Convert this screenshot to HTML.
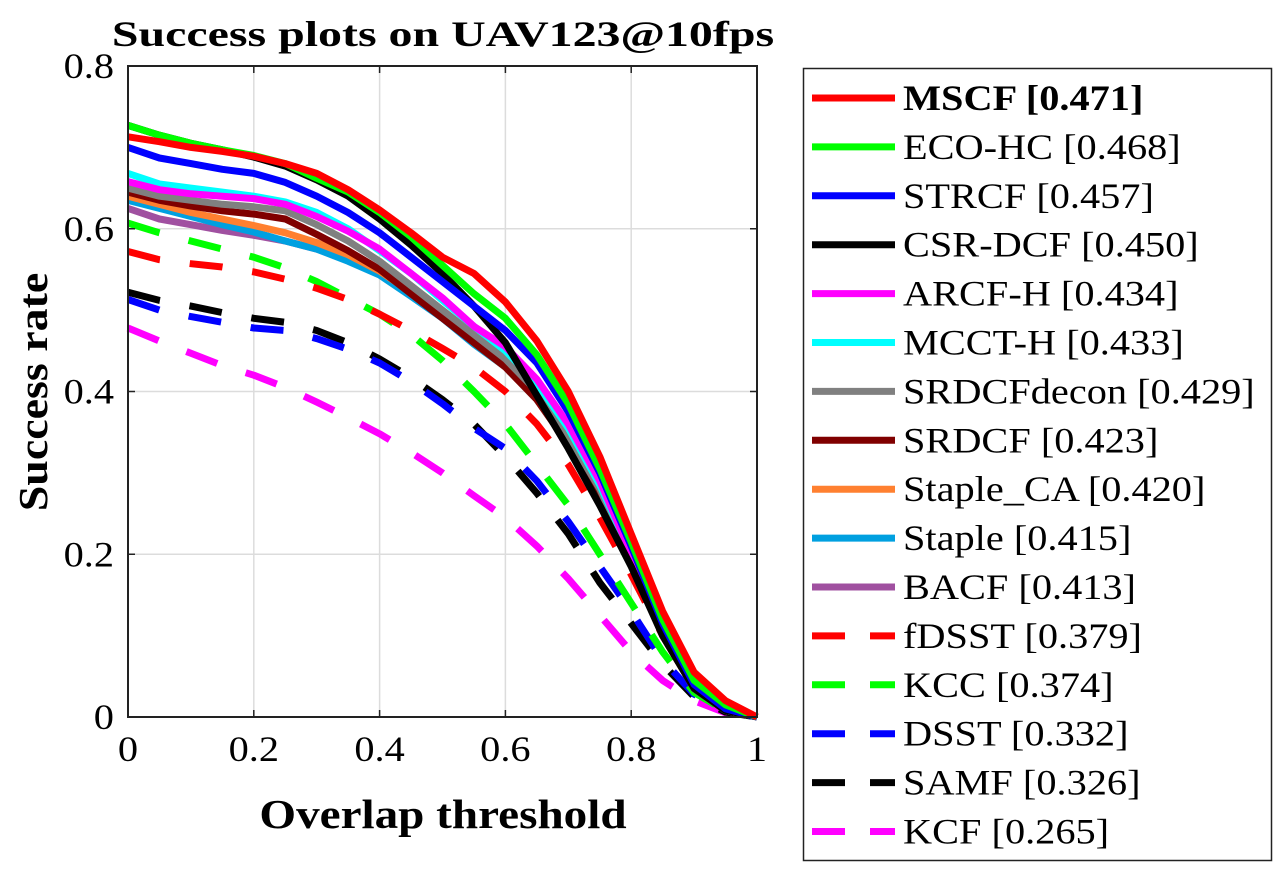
<!DOCTYPE html>
<html><head><meta charset="utf-8">
<style>
html,body{margin:0;padding:0;background:#fff;}
svg{display:block;font-family:"Liberation Serif",serif;}
</style></head>
<body>
<svg id="chart" width="1287" height="870" viewBox="0 0 1287 870" xmlns="http://www.w3.org/2000/svg">
<rect width="1287" height="870" fill="#fff"/>
<text data-stretch="1.33" x="443" y="46" text-anchor="middle" font-size="36" font-weight="bold">Success plots on UAV123@10fps</text>
<g id="grid"></g>
<g id="series"></g>
<g id="axes"></g>
<text data-stretch="1.15" x="443" y="828" text-anchor="middle" font-size="41" font-weight="bold">Overlap threshold</text>
<text data-stretch="1.12" transform="translate(47,392) rotate(-90)" text-anchor="middle" font-size="41" font-weight="bold">Success rate</text>
<rect x="803.5" y="68.5" width="468" height="792" fill="#fff" stroke="#222" stroke-width="1.5"/>
<g id="legend"></g>
</svg>
<script>
const thresholds=[0,0.05,0.1,0.15,0.2,0.25,0.3,0.35,0.4,0.45,0.5,0.55,0.6,0.65,0.7,0.75,0.8,0.85,0.9,0.95,1];
const xTicks=[0,0.2,0.4,0.6,0.8,1];
const yTicks=[0,0.2,0.4,0.6,0.8];
const names=["MSCF","ECO-HC","STRCF","CSR-DCF","ARCF-H","MCCT-H","SRDCFdecon","SRDCF","Staple_CA","Staple","BACF","fDSST","KCC","DSST","SAMF","KCF"];
const scores=["0.471","0.468","0.457","0.450","0.434","0.433","0.429","0.423","0.420","0.415","0.413","0.379","0.374","0.332","0.326","0.265"];
const colors=["#ff0000","#00ff00","#0000ff","#000000","#ff00ff","#00ffff","#808080","#800000","#ff8030","#00a0e0","#a050a0","#ff0000","#00ff00","#0000ff","#000000","#ff00ff"];
const dashed=[false,false,false,false,false,false,false,false,false,false,false,true,true,true,true,true];
const sMSCF=[0.713,0.707,0.700,0.695,0.689,0.680,0.668,0.648,0.623,0.595,0.565,0.545,0.51,0.462,0.40,0.32,0.225,0.13,0.055,0.02,0];
const sECO=[0.727,0.715,0.705,0.697,0.690,0.680,0.662,0.645,0.620,0.590,0.555,0.52,0.49,0.445,0.385,0.305,0.215,0.12,0.045,0.015,0];
const sSTRCF=[0.70,0.687,0.680,0.673,0.668,0.657,0.640,0.62,0.595,0.565,0.535,0.505,0.475,0.435,0.375,0.30,0.21,0.115,0.04,0.01,0];
const sCSR=[0.727,0.715,0.705,0.697,0.688,0.677,0.66,0.64,0.612,0.58,0.545,0.505,0.46,0.395,0.33,0.26,0.185,0.10,0.035,0.008,0];
const sARCF=[0.658,0.648,0.643,0.640,0.637,0.630,0.615,0.597,0.575,0.545,0.515,0.48,0.455,0.415,0.36,0.29,0.20,0.11,0.035,0.01,0];
const sMCCT=[0.668,0.655,0.650,0.645,0.64,0.633,0.62,0.600,0.573,0.545,0.512,0.48,0.45,0.41,0.355,0.285,0.2,0.11,0.04,0.01,0];
const sSRDCFdecon=[0.65,0.64,0.635,0.63,0.627,0.622,0.605,0.585,0.56,0.53,0.50,0.47,0.44,0.40,0.345,0.28,0.195,0.105,0.035,0.008,0];
const sSRDCF=[0.645,0.635,0.628,0.622,0.618,0.612,0.593,0.573,0.55,0.52,0.49,0.46,0.43,0.39,0.335,0.27,0.19,0.10,0.035,0.008,0];
const sStapleCA=[0.64,0.63,0.62,0.612,0.604,0.595,0.583,0.568,0.548,0.522,0.492,0.46,0.43,0.39,0.335,0.27,0.19,0.10,0.035,0.008,0];
const sStaple=[0.635,0.625,0.615,0.605,0.596,0.585,0.575,0.56,0.543,0.517,0.49,0.458,0.43,0.39,0.335,0.27,0.19,0.10,0.035,0.008,0];
const sBACF=[0.625,0.612,0.605,0.598,0.592,0.585,0.575,0.562,0.545,0.52,0.49,0.46,0.43,0.39,0.335,0.27,0.19,0.10,0.035,0.008,0];
const sfDSST=[0.572,0.562,0.557,0.553,0.547,0.538,0.527,0.513,0.495,0.475,0.453,0.43,0.40,0.36,0.31,0.245,0.175,0.10,0.04,0.01,0];
const sKCC=[0.607,0.595,0.585,0.575,0.565,0.552,0.535,0.515,0.495,0.47,0.438,0.40,0.36,0.31,0.26,0.20,0.14,0.08,0.03,0.008,0];
const sDSST=[0.513,0.500,0.492,0.485,0.478,0.475,0.465,0.452,0.435,0.412,0.385,0.355,0.33,0.29,0.24,0.185,0.13,0.07,0.028,0.008,0];
const sSAMF=[0.522,0.512,0.505,0.497,0.49,0.485,0.475,0.46,0.44,0.417,0.39,0.36,0.32,0.275,0.225,0.165,0.115,0.065,0.025,0.006,0];
const sKCF=[0.478,0.462,0.447,0.432,0.42,0.405,0.387,0.368,0.348,0.325,0.30,0.272,0.245,0.21,0.17,0.125,0.08,0.045,0.02,0.005,0];
const seriesData=[sMSCF,sECO,sSTRCF,sCSR,sARCF,sMCCT,sSRDCFdecon,sSRDCF,sStapleCA,sStaple,sBACF,sfDSST,sKCC,sDSST,sSAMF,sKCF];

const NS="http://www.w3.org/2000/svg";
const X0=128,X1=757,Y0=717,Y1=66;
const xs=v=>X0+(X1-X0)*v;
const ys=v=>Y0-(Y0-Y1)*v/0.8;
function mk(tag,attrs,parent){const e=document.createElementNS(NS,tag);for(const k in attrs)e.setAttribute(k,attrs[k]);parent.appendChild(e);return e;}
const grid=document.getElementById('grid'),axes=document.getElementById('axes'),ser=document.getElementById('series'),leg=document.getElementById('legend');
xTicks.forEach(t=>{
 const g=mk('line',{x1:xs(t),x2:xs(t),y1:Y0,y2:Y1,stroke:'#dcdcdc','stroke-width':1.5},grid);
 
 
 mk('line',{x1:xs(t),x2:xs(t),y1:Y0,y2:Y0-7,stroke:'#222','stroke-width':1.5},axes);
 mk('line',{x1:xs(t),x2:xs(t),y1:Y1,y2:Y1+7,stroke:'#222','stroke-width':1.5},axes);
 const tx=mk('text',{x:xs(t),y:Y0+44,'text-anchor':'middle','font-size':36,'data-stretch':'1.12'},axes);
 tx.textContent=String(t);
 
 
});
yTicks.forEach(t=>{
 const g=mk('line',{x1:X0,x2:X1,y1:ys(t),y2:ys(t),stroke:'#dcdcdc','stroke-width':1.5},grid);
 
 
 mk('line',{x1:X0,x2:X0+7,y1:ys(t),y2:ys(t),stroke:'#222','stroke-width':1.5},axes);
 mk('line',{x1:X1,x2:X1-7,y1:ys(t),y2:ys(t),stroke:'#222','stroke-width':1.5},axes);
 const tx=mk('text',{x:X0-14,y:ys(t)+12,'text-anchor':'end','font-size':36,'data-stretch':'1.12'},axes);
 tx.textContent=String(t);
 
 
});
const frame=mk('rect',{x:X0,y:Y1,width:X1-X0,height:Y0-Y1,fill:'none',stroke:'#222','stroke-width':2},axes);


for(let i=seriesData.length-1;i>=0;i--){
 const d=seriesData[i].map((v,j)=>(j?'L':'M')+xs(thresholds[j]).toFixed(1)+','+ys(v).toFixed(1)).join('');
 const p=mk('path',{d:d,fill:'none',stroke:colors[i],'stroke-width':7,'stroke-linejoin':'round'},ser);
 if(dashed[i])p.setAttribute('stroke-dasharray','33,30');
 
 
}
names.forEach((n,i)=>{
 const y=98+i*48.9;
 const g=mk('g',{},leg);
 
 
 const l=mk('line',{x1:812,x2:895,y1:y,y2:y,stroke:colors[i],'stroke-width':7},g);
 if(dashed[i])l.setAttribute('stroke-dasharray','33,25');
 const t=mk('text',{x:903,y:y+12,'font-size':36,'data-stretch':'1.12'},g);
 if(i===0)t.setAttribute('font-weight','bold');
 t.textContent=n+' ['+scores[i]+']';
});
document.querySelectorAll('text[data-stretch]').forEach(t=>{
 const f=parseFloat(t.getAttribute('data-stretch'));
 const w=t.getComputedTextLength();
 t.setAttribute('textLength',(w*f).toFixed(1));
 t.setAttribute('lengthAdjust','spacingAndGlyphs');
});
</script>
</body></html>
